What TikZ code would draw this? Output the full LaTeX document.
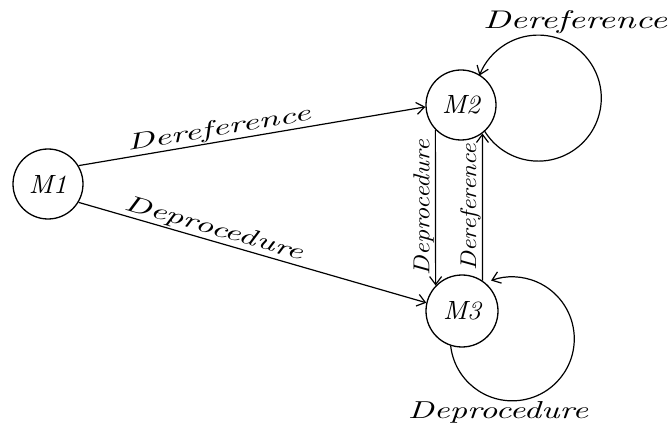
\documentclass[tikz,border=0pt]{standalone}
\usepackage{fontspec}
\usepackage{graphicx}
\usetikzlibrary{arrows.meta}
\newcommand{\hw}[3]{\resizebox{#1pt}{#2pt}{\itshape #3}}
\begin{document}
\begin{tikzpicture}[x=1pt,y=1pt,
  state/.style={circle, draw, line width=1.3pt, minimum size=70pt, inner sep=0pt},
  conn/.style={line width=1.2pt, -{Straight Barb[length=8pt,width=12pt,line width=1.2pt]}},
  lbl/.style={inner sep=1pt}]
\useasboundingbox (0,0) rectangle (670,429);
\node[state] (M1) at (48,245) {\hw{38}{18}{M1}};
\node[state] (M2) at (461,324) {\hw{38}{18}{M2}};
\node[state, minimum size=72pt] (M3) at (462,118) {\hw{38}{18}{M3}};
\draw[conn] (M1.31) -- node[lbl, pos=0.41, above, sloped] (e1) {\hw{186}{16}{Dereference}} (M2.183);
\draw[conn] (M1.-31) -- node[lbl, pos=0.38, above, sloped] (e2) {\hw{185}{16}{Deprocedure}} (M3.167);
\draw[conn] (M2.224) -- node[lbl, midway, rotate=90, anchor=south] (e3) {\hw{135}{16}{Deprocedure}} (M3.136);
\draw[conn] (M3.56.3) -- node[lbl, midway, rotate=90, anchor=south] (e4) {\hw{127}{16}{Dereference}} (M2.-53.1);
\draw[conn] (M2.-48) arc[start angle=212, end angle=519, radius=63];
\draw[conn] (M3.252) arc[start angle=186.5, end angle=470, radius=62];
\node[lbl] (t1) at (575,407) {\hw{184}{18}{Dereference}};
\node[lbl] (t2) at (498,17) {\hw{180}{17}{Deprocedure}};
\end{tikzpicture}
\end{document}
